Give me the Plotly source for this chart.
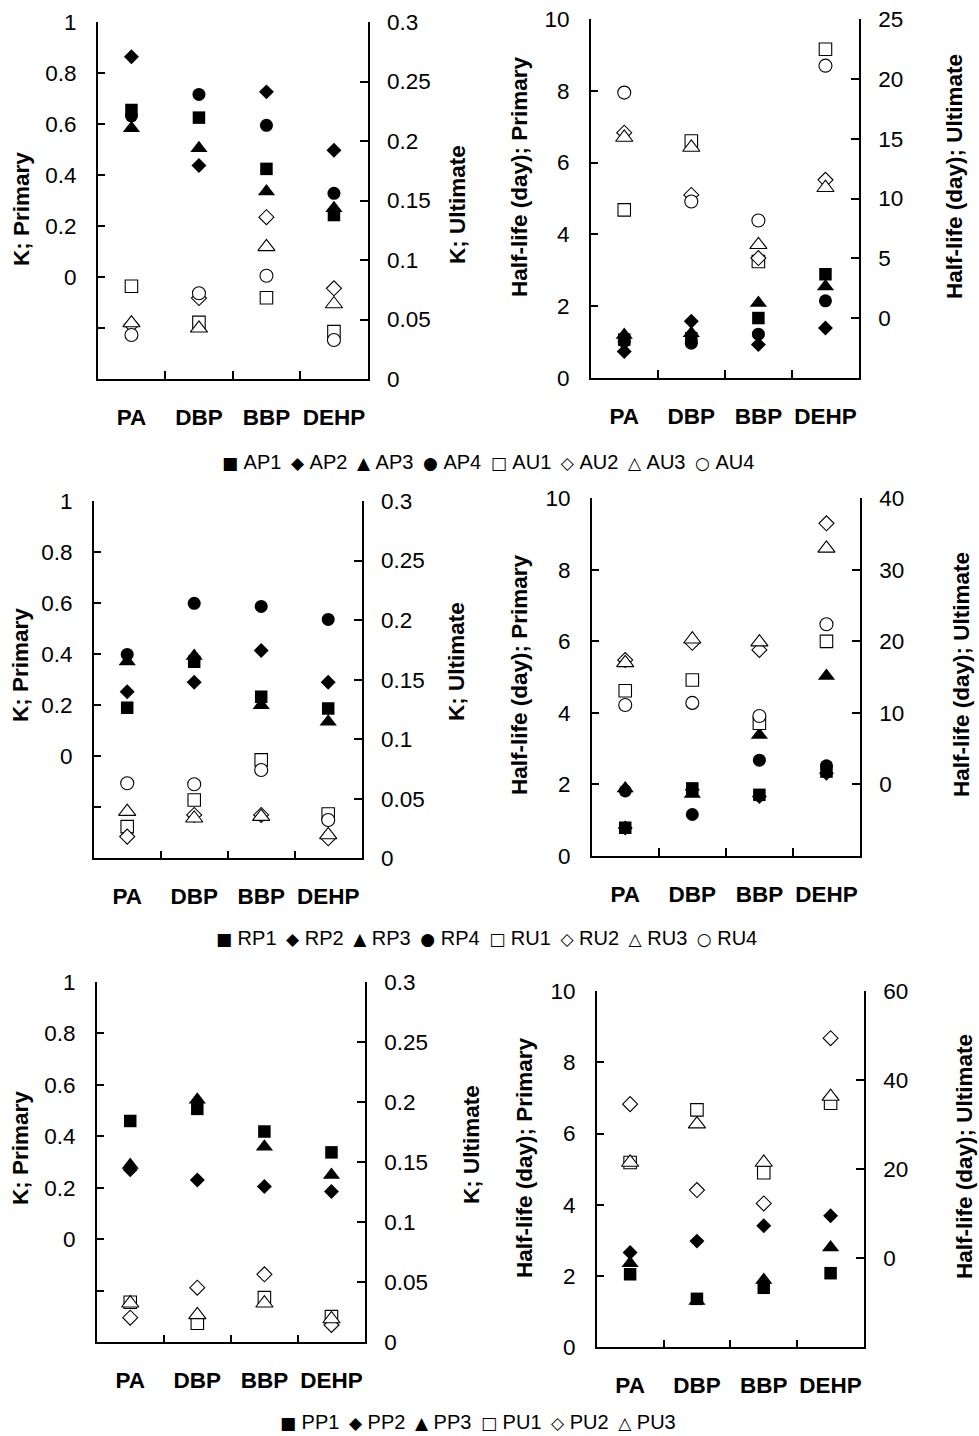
import plotly.graph_objects as go

# ---------------- data ----------------
categories = ["PA", "DBP", "BBP", "DEHP"]

# Panel A: rate constant K
AP1_K = [0.655, 0.625, 0.424, 0.243]
AP2_K = [0.864, 0.437, 0.726, 0.497]
AP3_K = [0.583, 0.505, 0.335, 0.270]
AP4_K = [0.632, 0.716, 0.595, 0.328]
AU1_K = [0.078, 0.0476, 0.0683, 0.0398]
AU2_K = [0.0454, 0.068, 0.136, 0.0762]
AU3_K = [0.047, 0.0426, 0.111, 0.063]
AU4_K = [0.037, 0.072, 0.0868, 0.0328]

# Panel A: half-life (day)
AP1_H = [1.07, 1.11, 1.67, 2.89]
AP2_H = [0.74, 1.58, 0.93, 1.39]
AP3_H = [1.20, 1.25, 2.09, 2.55]
AP4_H = [1.02, 0.97, 1.22, 2.15]
AU1_H = [9.05, 14.8, 4.74, 22.47]
AU2_H = [15.5, 10.3, 5.02, 11.56]
AU3_H = [15.1, 14.26, 6.13, 10.9]
AU4_H = [18.85, 9.75, 8.16, 21.1]

# Panel R: rate constant K
RP1_K = [0.19, 0.37, 0.233, 0.187]
RP2_K = [0.253, 0.29, 0.414, 0.29]
RP3_K = [0.371, 0.393, 0.20, 0.135]
RP4_K = [0.399, 0.599, 0.587, 0.536]
RU1_K = [0.0266, 0.049, 0.0826, 0.0372]
RU2_K = [0.0182, 0.0364, 0.0364, 0.0168]
RU3_K = [0.0392, 0.0336, 0.035, 0.0196]
RU4_K = [0.063, 0.0622, 0.0742, 0.0322]

# Panel R: half-life (day)
RP1_H = [0.79, 1.89, 1.71, 2.36]
RP2_H = [0.78, 1.85, 1.66, 2.31]
RP3_H = [1.89, 1.73, 3.38, 5.03]
RP4_H = [1.82, 1.16, 2.68, 2.52]
RU1_H = [13.1, 14.6, 8.55, 20.0]
RU2_H = [17.4, 19.8, 18.8, 36.5]
RU3_H = [17.0, 20.3, 19.9, 33.0]
RU4_H = [11.1, 11.4, 9.57, 22.4]

# Panel P: rate constant K
PP1_K = [0.46, 0.507, 0.419, 0.338]
PP2_K = [0.27, 0.231, 0.205, 0.186]
PP3_K = [0.289, 0.542, 0.36, 0.25]
PU1_K = [0.0333, 0.0158, 0.0372, 0.0214]
PU2_K = [0.0205, 0.0455, 0.0566, 0.0144]
PU3_K = [0.0325, 0.0228, 0.0325, 0.0194]

# Panel P: half-life (day)
PP1_H = [2.05, 1.36, 1.67, 2.08]
PP2_H = [2.66, 2.98, 3.41, 3.69]
PP3_H = [2.36, 1.30, 1.89, 2.80]
PU1_H = [21.5, 33.3, 19.2, 34.8]
PU2_H = [34.6, 15.3, 12.3, 49.4]
PU3_H = [21.5, 30.1, 21.5, 36.3]

# tick labels
K_primary_ticks = [-0.2, 0, 0.2, 0.4, 0.6, 0.8, 1]
K_primary_text = ["", "0", "0.2", "0.4", "0.6", "0.8", "1"]
K_ultimate_ticks = [0, 0.05, 0.1, 0.15, 0.2, 0.25, 0.3]
K_ultimate_text = ["0", "0.05", "0.1", "0.15", "0.2", "0.25", "0.3"]
H_primary_ticks = [0, 2, 4, 6, 8, 10]
H_ult_ticks_A = [0, 5, 10, 15, 20, 25]
H_ult_ticks_R = [0, 10, 20, 30, 40]
H_ult_ticks_P = [0, 20, 40, 60]

# ---------------- figure ----------------
W, H = 979, 1436
FONT = "Liberation Sans, Arial, sans-serif"


def fx(p):
    return p / W


def fy(p):
    return 1 - p / H


fig = go.Figure()

SYM = {1: "square", 2: "diamond", 3: "triangle-up", 4: "circle"}
SIZE = {"square": 12.5, "diamond": 11.5, "triangle-up": 15, "circle": 13}


def add_series(panel, name, values, idx, primary):
    xa = "x" if panel == 1 else f"x{panel}"
    yn = 2 * panel - 1 if primary else 2 * panel
    ya = "y" if yn == 1 else f"y{yn}"
    s = SYM[idx]
    marker = dict(symbol=s, size=SIZE[s],
                  color="black" if primary else "white",
                  line=dict(color="black", width=0 if primary else 1.1))
    fig.add_trace(go.Scatter(x=categories, y=values, mode="markers", name=name,
                             marker=marker, xaxis=xa, yaxis=ya,
                             showlegend=False, cliponaxis=False))


for i, (n, v) in enumerate([("AP1", AP1_K), ("AP2", AP2_K), ("AP3", AP3_K), ("AP4", AP4_K)], 1):
    add_series(1, n, v, i, True)
for i, (n, v) in enumerate([("AU1", AU1_K), ("AU2", AU2_K), ("AU3", AU3_K), ("AU4", AU4_K)], 1):
    add_series(1, n, v, i, False)
for i, (n, v) in enumerate([("AP1", AP1_H), ("AP2", AP2_H), ("AP3", AP3_H), ("AP4", AP4_H)], 1):
    add_series(2, n, v, i, True)
for i, (n, v) in enumerate([("AU1", AU1_H), ("AU2", AU2_H), ("AU3", AU3_H), ("AU4", AU4_H)], 1):
    add_series(2, n, v, i, False)
for i, (n, v) in enumerate([("RP1", RP1_K), ("RP2", RP2_K), ("RP3", RP3_K), ("RP4", RP4_K)], 1):
    add_series(3, n, v, i, True)
for i, (n, v) in enumerate([("RU1", RU1_K), ("RU2", RU2_K), ("RU3", RU3_K), ("RU4", RU4_K)], 1):
    add_series(3, n, v, i, False)
for i, (n, v) in enumerate([("RP1", RP1_H), ("RP2", RP2_H), ("RP3", RP3_H), ("RP4", RP4_H)], 1):
    add_series(4, n, v, i, True)
for i, (n, v) in enumerate([("RU1", RU1_H), ("RU2", RU2_H), ("RU3", RU3_H), ("RU4", RU4_H)], 1):
    add_series(4, n, v, i, False)
for i, (n, v) in enumerate([("PP1", PP1_K), ("PP2", PP2_K), ("PP3", PP3_K)], 1):
    add_series(5, n, v, i, True)
for i, (n, v) in enumerate([("PU1", PU1_K), ("PU2", PU2_K), ("PU3", PU3_K)], 1):
    add_series(5, n, v, i, False)
for i, (n, v) in enumerate([("PP1", PP1_H), ("PP2", PP2_H), ("PP3", PP3_H)], 1):
    add_series(6, n, v, i, True)
for i, (n, v) in enumerate([("PU1", PU1_H), ("PU2", PU2_H), ("PU3", PU3_H)], 1):
    add_series(6, n, v, i, False)

# panel geometry in pixels (left, right, top, bottom)
panels = [
    (97.7, 367.7, 22, 379),
    (590.7, 859, 19, 378),
    (93.7, 361.7, 501, 858.3),
    (591.7, 860, 498.3, 856),
    (96.7, 365, 982, 1342.3),
    (596.7, 864, 991, 1347.3),
]

k_left = dict(range=[-0.4, 1], tickvals=K_primary_ticks, ticktext=K_primary_text)
k_right = dict(range=[0, 0.3], tickvals=K_ultimate_ticks, ticktext=K_ultimate_text)
h_left = dict(range=[0, 10], tickvals=H_primary_ticks, ticktext=[str(t) for t in H_primary_ticks])
h_right = [
    dict(range=[-5, 25], tickvals=H_ult_ticks_A, ticktext=[str(t) for t in H_ult_ticks_A]),
    dict(range=[-10, 40], tickvals=H_ult_ticks_R, ticktext=[str(t) for t in H_ult_ticks_R]),
    dict(range=[-20, 60], tickvals=H_ult_ticks_P, ticktext=[str(t) for t in H_ult_ticks_P]),
]

LW = 1.5
common_y = dict(tickmode="array", ticks="inside", ticklen=8, tickwidth=LW, tickcolor="black",
                showline=True, linecolor="black", linewidth=LW, showgrid=False, zeroline=False,
                automargin=False, tickfont=dict(family=FONT, size=22.5, color="black"))

layout = {}
for i, (x0, x1, y0, y1) in enumerate(panels, start=1):
    xk = "xaxis" if i == 1 else f"xaxis{i}"
    ylk = "yaxis" if i == 1 else f"yaxis{2 * i - 1}"
    yrk = f"yaxis{2 * i}"
    yl_ref = "y" if i == 1 else f"y{2 * i - 1}"
    x_ref = "x" if i == 1 else f"x{i}"
    layout[xk] = dict(domain=[fx(x0), fx(x1)], anchor=yl_ref, type="category",
                      categoryorder="array", categoryarray=categories, range=[-0.5, 3.5],
                      tickson="boundaries", ticks="inside", ticklen=8, tickwidth=LW,
                      tickcolor="black", showline=True, linecolor="black", linewidth=LW,
                      showgrid=False, zeroline=False, ticklabelstandoff=17, tickangle=0,
                      automargin=False,
                      tickfont=dict(family=FONT, size=22.5, color="black", weight="bold"))
    is_k = (i % 2 == 1)
    left = k_left if is_k else h_left
    right = k_right if is_k else h_right[(i - 2) // 2]
    layout[ylk] = dict(domain=[fy(y1), fy(y0)], anchor=x_ref, side="left",
                       ticklabelstandoff=15, **left, **common_y)
    layout[yrk] = dict(overlaying=yl_ref, anchor=x_ref, side="right",
                       ticklabelstandoff=13, **right, **common_y)

# axis titles (pixel centres)
titles = [
    ("K; Primary", 21, 209), ("K; Ultimate", 457, 205),
    ("Half-life (day); Primary", 519, 177), ("Half-life (day); Ultimate", 954, 177),
    ("K; Primary", 20, 665), ("K; Ultimate", 457, 662),
    ("Half-life (day); Primary", 519, 675), ("Half-life (day); Ultimate", 961, 675),
    ("K; Primary", 20, 1148), ("K; Ultimate", 471, 1145),
    ("Half-life (day); Primary", 524, 1158), ("Half-life (day); Ultimate", 964, 1157),
]
annotations = []
for t, px, py in titles:
    annotations.append(dict(text=f"<b>{t}</b>", x=fx(px), y=fy(py), xref="paper", yref="paper",
                            xanchor="center", yanchor="middle", textangle=-90, showarrow=False,
                            font=dict(family=FONT, size=22.5, color="black")))

# legends (text rows with marker glyphs)
GLYPH = {"square": ("\u25A0", "\u25A1"), "diamond": ("\u25C6", "\u25C7"),
         "triangle-up": ("\u25B2", "\u25B3"), "circle": ("\u25CF", "\u25CB")}


def legend_row(prefix, n):
    parts = []
    for kind, filled in (("P", 0), ("U", 1)):
        for k in range(1, n + 1):
            g = GLYPH[SYM[k]][filled]
            parts.append(f'<span style="font-family:DejaVu Sans;font-size:17px">{g}</span>'
                         f'\u00a0{prefix}{kind}{k}')
    return "\u00a0\u2009".join(parts)


for prefix, n, cx, cy in (("A", 4, 487.5, 462), ("R", 4, 486, 938), ("P", 3, 478, 1422)):
    annotations.append(dict(text=legend_row(prefix, n), x=fx(cx), y=fy(cy), xref="paper", yref="paper",
                            xanchor="center", yanchor="middle", showarrow=False,
                            font=dict(family=FONT, size=20, color="black")))

fig.update_layout(width=W, height=H, margin=dict(l=0, r=0, t=0, b=0, autoexpand=False),
                  paper_bgcolor="white", plot_bgcolor="white", showlegend=False,
                  annotations=annotations, **layout)

fig.write_html("out.html", config={"displayModeBar": False},
               post_script="document.body.style.margin='0';document.body.style.overflow='hidden';")
